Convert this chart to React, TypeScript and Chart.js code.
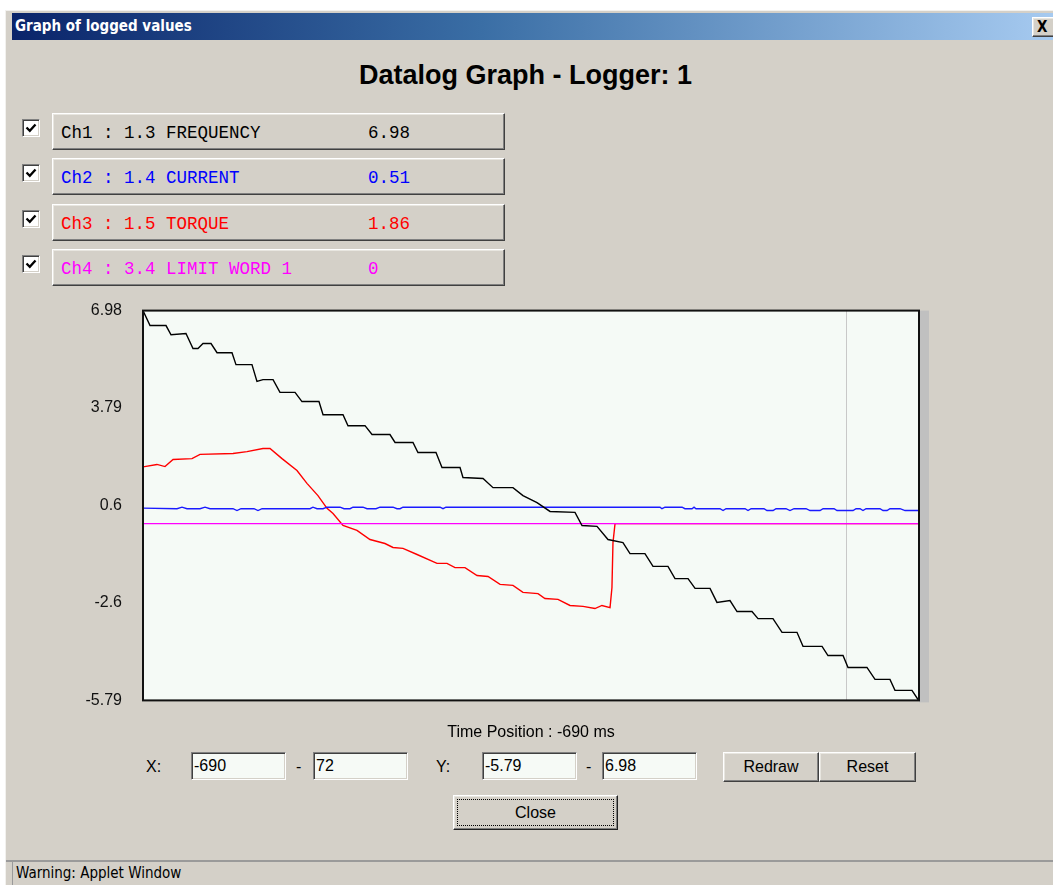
import React, { useEffect, useRef } from 'react';
import { Chart, registerables } from 'chart.js';

Chart.register(...registerables);

// ---- Data ----
const channelLabels = ['Ch1 : 1.3 FREQUENCY', 'Ch2 : 1.4 CURRENT', 'Ch3 : 1.5 TORQUE', 'Ch4 : 3.4 LIMIT WORD 1'];
const channelReadouts = ['6.98', '0.51', '1.86', '0'];
const channelColors = ['#000000', '#0000FF', '#FF0000', '#FF00FF'];

const yTicks = [6.98, 3.79, 0.6, -2.6, -5.79];
const xRange = [-690, 72];
const yRange = [-5.79, 6.98];
const cursorTime = 0;

const freqTime = [-690, -683.1, -667.4, -662.5, -647.8, -640.9, -636.0, -631.1, -623.2, -617.3, -602.6, -598.7, -583.0, -578.1, -572.2, -562.3, -555.5, -540.7, -533.9, -517.2, -513.2, -493.6, -488.7, -472.0, -465.1, -447.5, -442.5, -424.9, -420.0, -402.3, -396.4, -378.7, -375.8, -356.1, -346.3, -326.7, -316.9, -303.1, -290.3, -265.8, -258.9, -244.2, -233.4, -218.7, -211.8, -197.1, -189.2, -174.5, -167.6, -154.8, -147.9, -133.2, -126.4, -113.6, -106.7, -92.0, -86.1, -71.4, -62.5, -47.8, -41.9, -23.2, -17.4, -2.6, 2.3, 20.9, 28.8, 43.5, 48.4, 65.1, 71.0, 72];
const freqValues = [6.98, 6.49, 6.49, 6.19, 6.23, 5.74, 5.74, 5.90, 5.90, 5.60, 5.60, 5.21, 5.21, 4.66, 4.72, 4.72, 4.30, 4.30, 4.00, 4.00, 3.57, 3.57, 3.21, 3.21, 2.92, 2.92, 2.66, 2.66, 2.33, 2.33, 1.84, 1.84, 1.51, 1.48, 1.18, 1.18, 0.92, 0.69, 0.40, 0.37, -0.06, -0.09, -0.52, -0.62, -0.98, -0.98, -1.40, -1.40, -1.80, -1.80, -2.12, -2.12, -2.58, -2.52, -2.88, -2.88, -3.11, -3.11, -3.56, -3.56, -4.02, -4.02, -4.32, -4.32, -4.71, -4.71, -5.10, -5.10, -5.46, -5.46, -5.76, -5.79];

const currentTime = [-690, -656.6, -651.7, -646.8, -634.0, -629.1, -624.2, -601.6, -597.7, -593.8, -581.0, -577.1, -573.1, -526.0, -523.1, -519.1, -513.2, -509.3, -496.5, -492.6, -486.7, -483.8, -474.0, -470.0, -461.2, -457.3, -444.5, -440.6, -437.6, -434.7, -398.3, -395.4, -392.5, -182.3, -180.4, -177.4, -160.7, -157.8, -150.9, -148.9, -147.0, -123.4, -120.4, -117.5, -98.8, -95.9, -92.9, -80.2, -77.3, -71.3, -68.4, -58.6, -54.7, -50.7, -38.9, -35.0, -25.2, -22.2, -11.4, -8.5, 7.2, 10.2, 14.1, 17.0, 20.0, 33.7, 36.7, 40.6, 43.5, 53.4, 58.3, 72];
const currentValues = [0.51, 0.49, 0.54, 0.49, 0.49, 0.54, 0.49, 0.49, 0.43, 0.49, 0.49, 0.43, 0.49, 0.49, 0.54, 0.49, 0.49, 0.54, 0.54, 0.49, 0.49, 0.54, 0.54, 0.49, 0.49, 0.54, 0.54, 0.49, 0.49, 0.54, 0.54, 0.49, 0.54, 0.54, 0.49, 0.54, 0.54, 0.49, 0.49, 0.54, 0.49, 0.49, 0.43, 0.49, 0.49, 0.43, 0.49, 0.49, 0.43, 0.43, 0.49, 0.49, 0.43, 0.49, 0.49, 0.43, 0.43, 0.49, 0.49, 0.43, 0.43, 0.49, 0.49, 0.43, 0.49, 0.49, 0.43, 0.43, 0.49, 0.49, 0.43, 0.43];

const torqueTime = [-690, -676.3, -668.4, -660.5, -641.9, -634.0, -601.6, -587.9, -572.2, -565.3, -553.5, -538.8, -529.0, -518.2, -509.3, -503.4, -493.6, -479.9, -467.1, -452.4, -444.5, -434.7, -420.9, -401.3, -391.5, -383.6, -373.8, -362.0, -351.2, -339.4, -326.7, -316.9, -302.1, -295.3, -282.5, -270.7, -257.9, -246.2, -239.3, -231.4, -229.5, -228.5, -226.5, 72];
const torqueValues = [1.86, 1.94, 1.87, 2.10, 2.13, 2.27, 2.30, 2.36, 2.46, 2.46, 2.13, 1.74, 1.32, 0.92, 0.50, 0.33, -0.06, -0.22, -0.52, -0.65, -0.78, -0.81, -1.01, -1.30, -1.30, -1.44, -1.44, -1.70, -1.73, -1.99, -2.02, -2.25, -2.29, -2.45, -2.48, -2.68, -2.71, -2.78, -2.68, -2.75, -2.09, -0.62, 0, 0];

const limitTime = [-690, 72];
const limitValues = [0, 0];

const fieldValues = ['-690', '72', '-5.79', '6.98'];

// ---- helpers ----
const pts = (xs: number[], ys: number[]) => xs.map((x, i) => ({ x, y: ys[i] }));

const UI_FONT = '"Liberation Sans", Arial, sans-serif';
const WIN_FONT = '"DejaVu Sans Condensed", "DejaVu Sans", sans-serif';
const MONO_FONT = '"Liberation Mono", "Courier New", monospace';
const FACE = '#D4D0C8';

const raised: React.CSSProperties = {
  position: 'absolute',
  boxSizing: 'border-box',
  background: FACE,
  borderStyle: 'solid',
  borderWidth: 1,
  borderColor: '#FFFFFF #404040 #404040 #FFFFFF',
  boxShadow: 'inset -1px -1px 0 #808080, inset 1px 1px 0 #E8E6E0',
};

const sunken: React.CSSProperties = {
  position: 'absolute',
  boxSizing: 'border-box',
  background: '#F6FAF6',
  borderStyle: 'solid',
  borderWidth: 1,
  borderColor: '#808080 #FFFFFF #FFFFFF #808080',
  boxShadow: 'inset 1px 1px 0 #404040, inset -1px -1px 0 #D4D0C8',
};

const framePlugin = {
  id: 'appletFrame',
  beforeDraw(chart: any) {
    const { ctx, chartArea: a } = chart;
    ctx.save();
    ctx.fillStyle = '#C0C0C0';
    ctx.fillRect(a.right, a.top, 10, a.bottom - a.top + 2);
    ctx.fillStyle = '#F5FAF6';
    ctx.fillRect(a.left, a.top, a.right - a.left, a.bottom - a.top);
    ctx.restore();
  },
  beforeDatasetsDraw(chart: any) {
    const { ctx, chartArea: a } = chart;
    const x = Math.round(chart.scales.x.getPixelForValue(cursorTime)) + 0.5;
    ctx.save();
    ctx.strokeStyle = '#C8C8C8';
    ctx.lineWidth = 1;
    ctx.beginPath();
    ctx.moveTo(x, a.top);
    ctx.lineTo(x, a.bottom);
    ctx.stroke();
    ctx.restore();
  },
  afterDatasetsDraw(chart: any) {
    const { ctx, chartArea: a } = chart;
    ctx.save();
    ctx.strokeStyle = '#111111';
    ctx.lineWidth = 2;
    ctx.strokeRect(a.left, a.top, a.right - a.left, a.bottom - a.top);
    ctx.restore();
  },
};

function CheckBox({ top }: { top: number }) {
  return (
    <div style={{ ...sunken, left: 22, top, width: 18, height: 18, background: '#FFFFFF' }}>
      <svg width="16" height="16" style={{ position: 'absolute', left: 0, top: 0 }}>
        <polyline points="3.5,7.5 6.8,10.8 12.5,4.5" fill="none" stroke="#000" strokeWidth="2.3" />
      </svg>
    </div>
  );
}

export default function App() {
  const canvasRef = useRef<HTMLCanvasElement>(null);

  useEffect(() => {
    const chart = new Chart(canvasRef.current as HTMLCanvasElement, {
      type: 'line',
      data: {
        datasets: [
          { label: channelLabels[0], data: pts(freqTime, freqValues), borderColor: channelColors[0], order: 1 },
          { label: channelLabels[1], data: pts(currentTime, currentValues), borderColor: '#1A1AFF', order: 3 },
          { label: channelLabels[2], data: pts(torqueTime, torqueValues), borderColor: channelColors[2], order: 4 },
          { label: channelLabels[3], data: pts(limitTime, limitValues), borderColor: channelColors[3], order: 2 },
        ].map((d) => ({ ...d, borderWidth: 1.4, pointRadius: 0, tension: 0, fill: false })),
      },
      options: {
        animation: false,
        responsive: false,
        devicePixelRatio: 1,
        events: [],
        layout: { padding: { top: 0, bottom: 0, right: 21, left: 0 } },
        plugins: { legend: { display: false }, tooltip: { enabled: false } },
        scales: {
          x: { type: 'linear', min: xRange[0], max: xRange[1], display: false },
          y: {
            type: 'linear',
            min: yRange[0],
            max: yRange[1],
            afterFit: (s: any) => { s.width = 143; },
            afterBuildTicks: (s: any) => { s.ticks = yTicks.map((v) => ({ value: v })); },
            ticks: {
              padding: 21,
              color: '#111',
              font: { family: UI_FONT, size: 16 },
              callback: (v: any) => String(v),
            },
            grid: { display: false, drawTicks: false },
            border: { display: false },
          },
        },
      },
      plugins: [framePlugin],
    } as any);
    return () => chart.destroy();
  }, []);

  const fieldLefts = [191, 313, 482, 602];

  return (
    <div style={{ position: 'absolute', left: 0, top: 0, width: 1053, height: 885, background: '#FFFFFF', overflow: 'hidden' }}>
      {/* window */}
      <div style={{ position: 'absolute', left: 5, top: 10, width: 1048, height: 875, background: FACE, borderLeft: '1px solid #F2F1EE', borderTop: '1px solid #F2F1EE', boxSizing: 'border-box' }} />
      {/* title bar */}
      <div style={{ position: 'absolute', left: 12, top: 13, width: 1041, height: 27, background: 'linear-gradient(to right, #0A246A 0%, #3A6EA5 45%, #A6CAF0 100%)' }}>
        <span style={{ position: 'absolute', left: 3, top: 0, lineHeight: '27px', color: '#FFFFFF', fontFamily: WIN_FONT, fontStretch: 'condensed', fontWeight: 'bold', fontSize: 15, whiteSpace: 'nowrap' }}>Graph of logged values</span>
      </div>
      <div style={{ ...raised, left: 1032, top: 17, width: 23, height: 20 }}>
        <span style={{ position: 'absolute', left: 4, top: 0, lineHeight: '18px', fontFamily: WIN_FONT, fontWeight: 'bold', fontSize: 15, color: '#000' }}>X</span>
      </div>

      {/* heading */}
      <div style={{ position: 'absolute', left: 0, top: 59, width: 1051, textAlign: 'center', fontFamily: UI_FONT, fontWeight: 'bold', fontSize: 27, lineHeight: '32px', color: '#000' }}>Datalog Graph - Logger: 1</div>

      {/* channels */}
      {channelLabels.map((lab, i) => {
        const top = 113 + i * 45.3;
        return (
          <React.Fragment key={lab}>
            <CheckBox top={Math.round(top + 6)} />
            <div style={{ ...raised, left: 52, top: Math.round(top), width: 453, height: 37 }}>
              <span style={{ position: 'absolute', left: 8, top: 2, lineHeight: '35px', fontFamily: MONO_FONT, fontSize: 17.5, color: channelColors[i], whiteSpace: 'pre' }}>{lab}</span>
              <span style={{ position: 'absolute', left: 315, top: 2, lineHeight: '35px', fontFamily: MONO_FONT, fontSize: 17.5, color: channelColors[i], whiteSpace: 'pre' }}>{channelReadouts[i]}</span>
            </div>
          </React.Fragment>
        );
      })}

      {/* chart: chart area lands at x 143-919, y 310-700 */}
      <canvas ref={canvasRef} width={940} height={451} style={{ position: 'absolute', left: 0, top: 280, width: 940, height: 451, display: 'block' }} />

      {/* time position */}
      <div style={{ position: 'absolute', left: 0, top: 722, width: 1062, textAlign: 'center', fontFamily: UI_FONT, fontSize: 16, lineHeight: '20px', color: '#000' }}>Time Position : -690 ms</div>

      {/* controls */}
      <span style={{ position: 'absolute', left: 146, top: 757, lineHeight: '20px', fontFamily: UI_FONT, fontSize: 16 }}>X:</span>
      <span style={{ position: 'absolute', left: 296, top: 757, lineHeight: '20px', fontFamily: UI_FONT, fontSize: 16 }}>-</span>
      <span style={{ position: 'absolute', left: 436, top: 757, lineHeight: '20px', fontFamily: UI_FONT, fontSize: 16 }}>Y:</span>
      <span style={{ position: 'absolute', left: 586, top: 757, lineHeight: '20px', fontFamily: UI_FONT, fontSize: 16 }}>-</span>
      {fieldValues.map((v, i) => (
        <div key={i} style={{ ...sunken, left: fieldLefts[i], top: 752, width: 95, height: 28 }}>
          <span style={{ position: 'absolute', left: 2, top: 0, lineHeight: '26px', fontFamily: UI_FONT, fontSize: 16, color: '#000' }}>{v}</span>
        </div>
      ))}
      <div style={{ ...raised, left: 723, top: 752, width: 96, height: 30, textAlign: 'center', lineHeight: '28px', fontFamily: UI_FONT, fontSize: 16 }}>Redraw</div>
      <div style={{ ...raised, left: 819, top: 752, width: 97, height: 30, textAlign: 'center', lineHeight: '28px', fontFamily: UI_FONT, fontSize: 16 }}>Reset</div>
      <div style={{ ...raised, left: 453, top: 795, width: 165, height: 35, borderColor: '#FFFFFF #202020 #202020 #FFFFFF', textAlign: 'center', lineHeight: '33px', fontFamily: UI_FONT, fontSize: 16 }}>
        <div style={{ position: 'absolute', left: 3, top: 3, right: 3, bottom: 3, border: '1px dotted #000' }} />
        Close
      </div>

      {/* status bar */}
      <div style={{ position: 'absolute', left: 6, top: 860, width: 1047, height: 2, background: '#9A9A9A' }} />
      <div style={{ position: 'absolute', left: 12, top: 862, width: 1041, height: 23, borderLeft: '1px solid #9A9A9A', boxSizing: 'border-box' }}>
        <span style={{ position: 'absolute', left: 3, top: 0, lineHeight: '23px', fontFamily: WIN_FONT, fontStretch: 'condensed', fontSize: 15, color: '#000', whiteSpace: 'nowrap' }}>Warning: Applet Window</span>
      </div>
    </div>
  );
}
